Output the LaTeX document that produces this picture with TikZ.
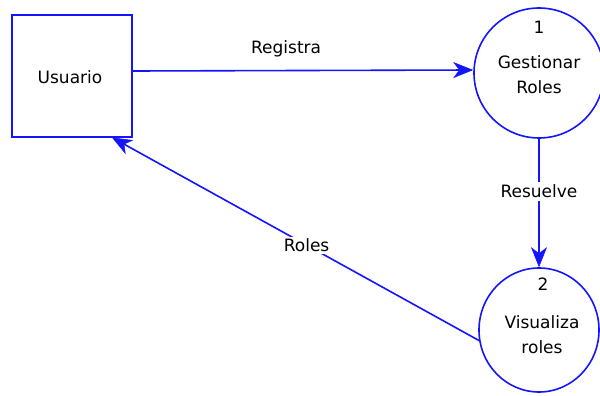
\documentclass[tikz,border=0pt]{standalone}
\usepackage{fontspec}
\setmainfont{DejaVu Sans}
\usetikzlibrary{arrows.meta,shapes.geometric,calc}
\definecolor{dfdblue}{RGB}{20,20,255}
\tikzset{
  entitybox/.style={draw=dfdblue, line width=2pt, minimum width=120pt, minimum height=121pt, inner sep=0pt},
  procnode/.style={draw=dfdblue, line width=1.6pt, circle, minimum size=130pt, inner sep=0pt},
  procoval/.style={draw=dfdblue, line width=1.6pt, ellipse, minimum width=120pt, minimum height=124pt, inner sep=0pt},
  txt/.style={font=\fontsize{17}{25}\selectfont, text=black, align=center, inner sep=1pt},
  flow/.style={draw=dfdblue, line width=1.6pt, -{Stealth[length=20pt,width=16pt,inset=6pt,line width=0.5pt]}},
  flowlabel/.style={txt, fill=white, inner sep=3pt}
}
\begin{document}
\begin{tikzpicture}[x=1pt,y=-1pt]
\useasboundingbox (0,0) rectangle (600,396);
\node[entitybox] (usuario) at (72,76) {};
\node[txt] (usuariotxt) at (70,77) {Usuario};
\node[procnode] (p1) at (539,73) {};
\node[txt] (p1num) at (539,27) {1};
\node[txt] (p1txt) at (539,75) {Gestionar\\Roles};
\node[procoval] (p2) at (539,330) {};
\node[txt] (p2num) at (543,284) {2};
\node[txt] (p2txt) at (542,335) {Visualiza\\roles};
\coordinate (regstart) at ([yshift=5pt]usuario.east);
\coordinate (regend) at ([yshift=3pt]p1.west);
\draw[flow] (regstart) -- (regend) node[txt, pos=0.45, yshift=22pt] (registra) {Registra};
\draw[flow] (p1.south) -- (p2.north) node[flowlabel, pos=0.41] (resuelve) {Resuelve};
\coordinate (rolend) at ([xshift=40pt]usuario.south);
\draw[flow] (p2.190) -- (rolend) node[flowlabel, pos=0.47, inner sep=2pt] (roles) {Roles};
\end{tikzpicture}
\end{document}
